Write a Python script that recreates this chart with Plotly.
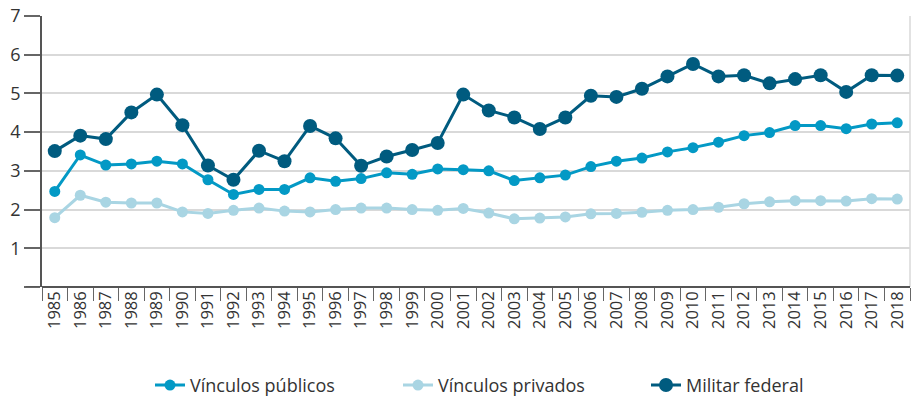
import plotly.graph_objects as go

years = [str(y) for y in range(1985, 2019)]

vinculos_publicos = [2.47, 3.41, 3.15, 3.18, 3.25, 3.18, 2.77, 2.39, 2.52, 2.52,
                     2.82, 2.73, 2.80, 2.95, 2.91, 3.05, 3.03, 3.00, 2.75, 2.82,
                     2.89, 3.11, 3.25, 3.33, 3.49, 3.60, 3.74, 3.91, 3.99, 4.17,
                     4.17, 4.09, 4.21, 4.24]

vinculos_privados = [1.79, 2.37, 2.19, 2.17, 2.17, 1.94, 1.90, 1.98, 2.04, 1.96,
                     1.94, 2.00, 2.04, 2.04, 2.00, 1.98, 2.03, 1.91, 1.76, 1.78,
                     1.81, 1.89, 1.90, 1.93, 1.98, 2.00, 2.06, 2.15, 2.20, 2.23,
                     2.23, 2.22, 2.28, 2.27]

militar_federal = [3.51, 3.91, 3.82, 4.51, 4.97, 4.18, 3.14, 2.77, 3.52, 3.25,
                   4.16, 3.84, 3.13, 3.37, 3.54, 3.72, 4.97, 4.56, 4.38, 4.08,
                   4.38, 4.94, 4.91, 5.12, 5.44, 5.76, 5.44, 5.47, 5.26, 5.37,
                   5.47, 5.04, 5.47, 5.46]

y_tick_vals = [0, 1, 2, 3, 4, 5, 6, 7]
y_tick_text = ["", "1", "2", "3", "4", "5", "6", "7"]

series = [
    ("Vínculos públicos", vinculos_publicos, "#0399c5", 11, 3),
    ("Vínculos privados", vinculos_privados, "#a9d5e3", 11, 3),
    ("Militar federal", militar_federal, "#005b7f", 14, 3),
]

fig = go.Figure()
for name, vals, color, msize, lw in series:
    fig.add_trace(go.Scatter(
        x=years, y=vals, name=name, mode="lines+markers",
        line=dict(color=color, width=lw),
        marker=dict(color=color, size=msize),
    ))

font_family = "Open Sans, Liberation Sans, sans-serif"

fig.update_layout(
    width=914, height=408,
    margin=dict(l=42, r=4, t=16, b=111),
    plot_bgcolor="white", paper_bgcolor="white",
    font=dict(family=font_family, color="#333333", size=16),
    showlegend=True,
    legend=dict(orientation="h", x=(150 - 42) / 868, xanchor="left",
                y=(297 - 399) / 281, yanchor="middle",
                font=dict(size=18, color="#333333"),
                entrywidth=203, borderwidth=0, bgcolor="rgba(0,0,0,0)"),
    xaxis=dict(
        type="category", range=[-0.5, 33.5], automargin=False,
        showgrid=False, showline=False,
        ticks="outside", tickson="boundaries", ticklen=13, tickcolor="#666666",
        tickwidth=1, tickangle=-90, tickfont=dict(size=16.5, color="#333333"),
        zeroline=False,
    ),
    yaxis=dict(
        range=[0, 7], tickvals=y_tick_vals, ticktext=y_tick_text, automargin=False,
        showgrid=True, gridcolor="#d9d9d9", gridwidth=1.5,
        showline=True, linecolor="#555555", linewidth=1.5,
        ticks="outside", ticklen=16, tickcolor="#666666", tickwidth=1.5,
        tickfont=dict(size=18, color="#333333"),
        zeroline=True, zerolinecolor="#555555", zerolinewidth=1.5,
    ),
)

fig.add_shape(type="line", xref="paper", yref="paper", x0=1, x1=1, y0=0, y1=1,
              line=dict(color="#d9d9d9", width=1.5), layer="below")
fig.add_shape(type="line", xref="paper", yref="y", x0=-16/868, x1=1, y0=0, y1=0,
              line=dict(color="#555555", width=1.5))

fig.write_html("out.html", config={"displayModeBar": False},
               post_script="document.body.style.margin='0px';")
